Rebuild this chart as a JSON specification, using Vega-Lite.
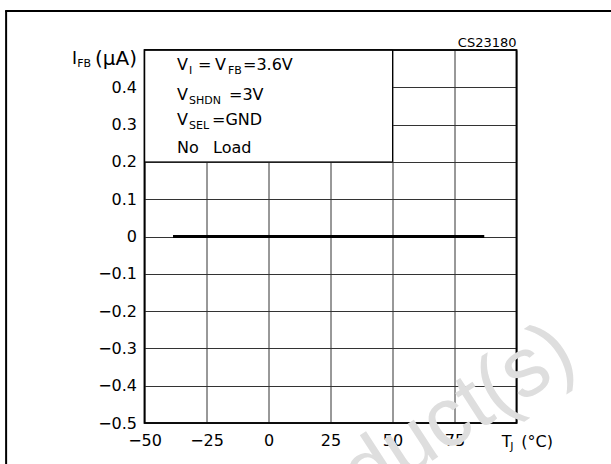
{
  "$schema": "https://vega.github.io/schema/vega-lite/v6.json",
  "width": 372,
  "height": 373,
  "autosize": "none",
  "padding": {"left": 144.5, "top": 50, "right": 94.5, "bottom": 41},
  "background": "white",
  "config": {
    "view": {"stroke": "black", "strokeWidth": 1.5},
    "font": "DejaVu Sans",
    "axis": {"labelFont": "DejaVu Sans", "labelFontSize": 16, "labelColor": "black", "gridColor": "#333333", "gridWidth": 1, "gridOpacity": 1, "domain": false, "ticks": false, "title": null, "labelOverlap": false}
  },
  "data": {"values": [{"T": -38.5, "I": 0}, {"T": 87, "I": 0}]},
  "layer": [
    {
      "mark": {"type": "line", "color": "black", "strokeWidth": 3},
      "encoding": {
        "x": {"field": "T", "type": "quantitative", "scale": {"domain": [-50, 100], "nice": false, "zero": false},
          "axis": {"values": [-50, -25, 0, 25, 50, 75, 100], "tickCount": 20, "grid": true, "labelPadding": 9, "labelFlush": false, "labelExpr": "datum.value == 100 ? '' : format(datum.value, 'd')"}},
        "y": {"field": "I", "type": "quantitative", "scale": {"domain": [-0.5, 0.5], "nice": false, "zero": false},
          "axis": {"values": [-0.5, -0.4, -0.3, -0.2, -0.1, 0, 0.1, 0.2, 0.3, 0.4, 0.5], "tickCount": 20, "grid": true, "labelPadding": 8, "labelFlush": false, "labelExpr": "datum.value > 0.45 ? '' : (abs(datum.value) < 0.001 ? '0' : format(datum.value, '.1f'))"}}
      }
    },
    {
      "data": {"values": [{}]},
      "mark": {"type": "rect", "fill": "white", "stroke": "black", "strokeWidth": 1},
      "encoding": {"x": {"datum": -50}, "x2": {"datum": 50}, "y": {"datum": 0.2}, "y2": {"datum": 0.5}}
    },
    {
      "data": {"values": [{}]},
      "mark": {"type": "rect", "fillOpacity": 0, "stroke": "black", "strokeWidth": 1.5},
      "encoding": {"x": {"datum": -50}, "x2": {"datum": 100}, "y": {"datum": -0.5}, "y2": {"datum": 0.5}}
    },
    {"data": {"values": [{}]}, "mark": {"type": "text", "text": "V", "align": "left", "baseline": "alphabetic", "fontSize": 16, "dx": 32.5}, "encoding": {"x": {"datum": -50}, "y": {"datum": 0.4464}}},
    {"data": {"values": [{}]}, "mark": {"type": "text", "text": "I", "align": "left", "baseline": "alphabetic", "fontSize": 11, "dx": 44.5, "dy": 4}, "encoding": {"x": {"datum": -50}, "y": {"datum": 0.4464}}},
    {"data": {"values": [{}]}, "mark": {"type": "text", "text": "=", "align": "left", "baseline": "alphabetic", "fontSize": 16, "dx": 53.5}, "encoding": {"x": {"datum": -50}, "y": {"datum": 0.4464}}},
    {"data": {"values": [{}]}, "mark": {"type": "text", "text": "V", "align": "left", "baseline": "alphabetic", "fontSize": 16, "dx": 70.5}, "encoding": {"x": {"datum": -50}, "y": {"datum": 0.4464}}},
    {"data": {"values": [{}]}, "mark": {"type": "text", "text": "FB", "align": "left", "baseline": "alphabetic", "fontSize": 11, "dx": 83.5, "dy": 4}, "encoding": {"x": {"datum": -50}, "y": {"datum": 0.4464}}},
    {"data": {"values": [{}]}, "mark": {"type": "text", "text": "=3.6V", "align": "left", "baseline": "alphabetic", "fontSize": 16, "dx": 98.5}, "encoding": {"x": {"datum": -50}, "y": {"datum": 0.4464}}},
    {"data": {"values": [{}]}, "mark": {"type": "text", "text": "V", "align": "left", "baseline": "alphabetic", "fontSize": 16, "dx": 32.5}, "encoding": {"x": {"datum": -50}, "y": {"datum": 0.366}}},
    {"data": {"values": [{}]}, "mark": {"type": "text", "text": "SHDN", "align": "left", "baseline": "alphabetic", "fontSize": 11, "dx": 44.5, "dy": 4}, "encoding": {"x": {"datum": -50}, "y": {"datum": 0.366}}},
    {"data": {"values": [{}]}, "mark": {"type": "text", "text": "=3V", "align": "left", "baseline": "alphabetic", "fontSize": 16, "dx": 84.5}, "encoding": {"x": {"datum": -50}, "y": {"datum": 0.366}}},
    {"data": {"values": [{}]}, "mark": {"type": "text", "text": "V", "align": "left", "baseline": "alphabetic", "fontSize": 16, "dx": 32.5}, "encoding": {"x": {"datum": -50}, "y": {"datum": 0.299}}},
    {"data": {"values": [{}]}, "mark": {"type": "text", "text": "SEL", "align": "left", "baseline": "alphabetic", "fontSize": 11, "dx": 44.5, "dy": 4}, "encoding": {"x": {"datum": -50}, "y": {"datum": 0.299}}},
    {"data": {"values": [{}]}, "mark": {"type": "text", "text": "=GND", "align": "left", "baseline": "alphabetic", "fontSize": 16, "dx": 67.5}, "encoding": {"x": {"datum": -50}, "y": {"datum": 0.299}}},
    {"data": {"values": [{}]}, "mark": {"type": "text", "text": "No", "align": "left", "baseline": "alphabetic", "fontSize": 16, "dx": 32.5}, "encoding": {"x": {"datum": -50}, "y": {"datum": 0.224}}},
    {"data": {"values": [{}]}, "mark": {"type": "text", "text": "Load", "align": "left", "baseline": "alphabetic", "fontSize": 16, "dx": 68.5}, "encoding": {"x": {"datum": -50}, "y": {"datum": 0.224}}},
    {"data": {"values": [{}]}, "mark": {"type": "text", "text": "I", "align": "right", "baseline": "alphabetic", "fontSize": 17, "dx": -67.5}, "encoding": {"x": {"datum": -50}, "y": {"datum": 0.4638}}},
    {"data": {"values": [{}]}, "mark": {"type": "text", "text": "FB", "align": "right", "baseline": "alphabetic", "fontSize": 11, "dx": -53.5, "dy": 3}, "encoding": {"x": {"datum": -50}, "y": {"datum": 0.4638}}},
    {"data": {"values": [{}]}, "mark": {"type": "text", "text": "(µA)", "align": "right", "baseline": "alphabetic", "fontSize": 20, "dx": -7.5, "dy": 1}, "encoding": {"x": {"datum": -50}, "y": {"datum": 0.4638}}},
    {"data": {"values": [{}]}, "mark": {"type": "text", "text": "T", "align": "left", "baseline": "alphabetic", "fontSize": 16, "dx": -14.7}, "encoding": {"x": {"datum": 100}, "y": {"datum": -0.5635}}},
    {"data": {"values": [{}]}, "mark": {"type": "text", "text": "J", "align": "left", "baseline": "alphabetic", "fontSize": 11, "dx": -6.2, "dy": 3}, "encoding": {"x": {"datum": 100}, "y": {"datum": -0.5635}}},
    {"data": {"values": [{}]}, "mark": {"type": "text", "text": "(°C)", "align": "left", "baseline": "alphabetic", "fontSize": 16, "dx": 4.8}, "encoding": {"x": {"datum": 100}, "y": {"datum": -0.5635}}},
    {"data": {"values": [{}]}, "mark": {"type": "text", "text": "CS23180", "align": "right", "baseline": "alphabetic", "fontSize": 13, "dy": -3}, "encoding": {"x": {"datum": 100}, "y": {"datum": 0.5}}},
    {"data": {"values": [{}]}, "mark": {"type": "text", "text": "Product(s)", "align": "right", "baseline": "alphabetic", "fontSize": 84, "font": "Liberation Sans", "angle": -33, "color": "#dedede", "clip": false}, "encoding": {"x": {"datum": 125.6}, "y": {"datum": -0.3445}}},
    {"data": {"values": [{}]}, "mark": {"type": "rule", "color": "black", "strokeWidth": 2, "clip": false}, "encoding": {"x": {"datum": -106.2}, "x2": {"datum": 140}, "y": {"datum": 0.6046}}},
    {"data": {"values": [{}]}, "mark": {"type": "rule", "color": "black", "strokeWidth": 2, "clip": false}, "encoding": {"x": {"datum": -105.8}, "y": {"datum": 0.6046}, "y2": {"datum": -0.62}}}
  ]
}
